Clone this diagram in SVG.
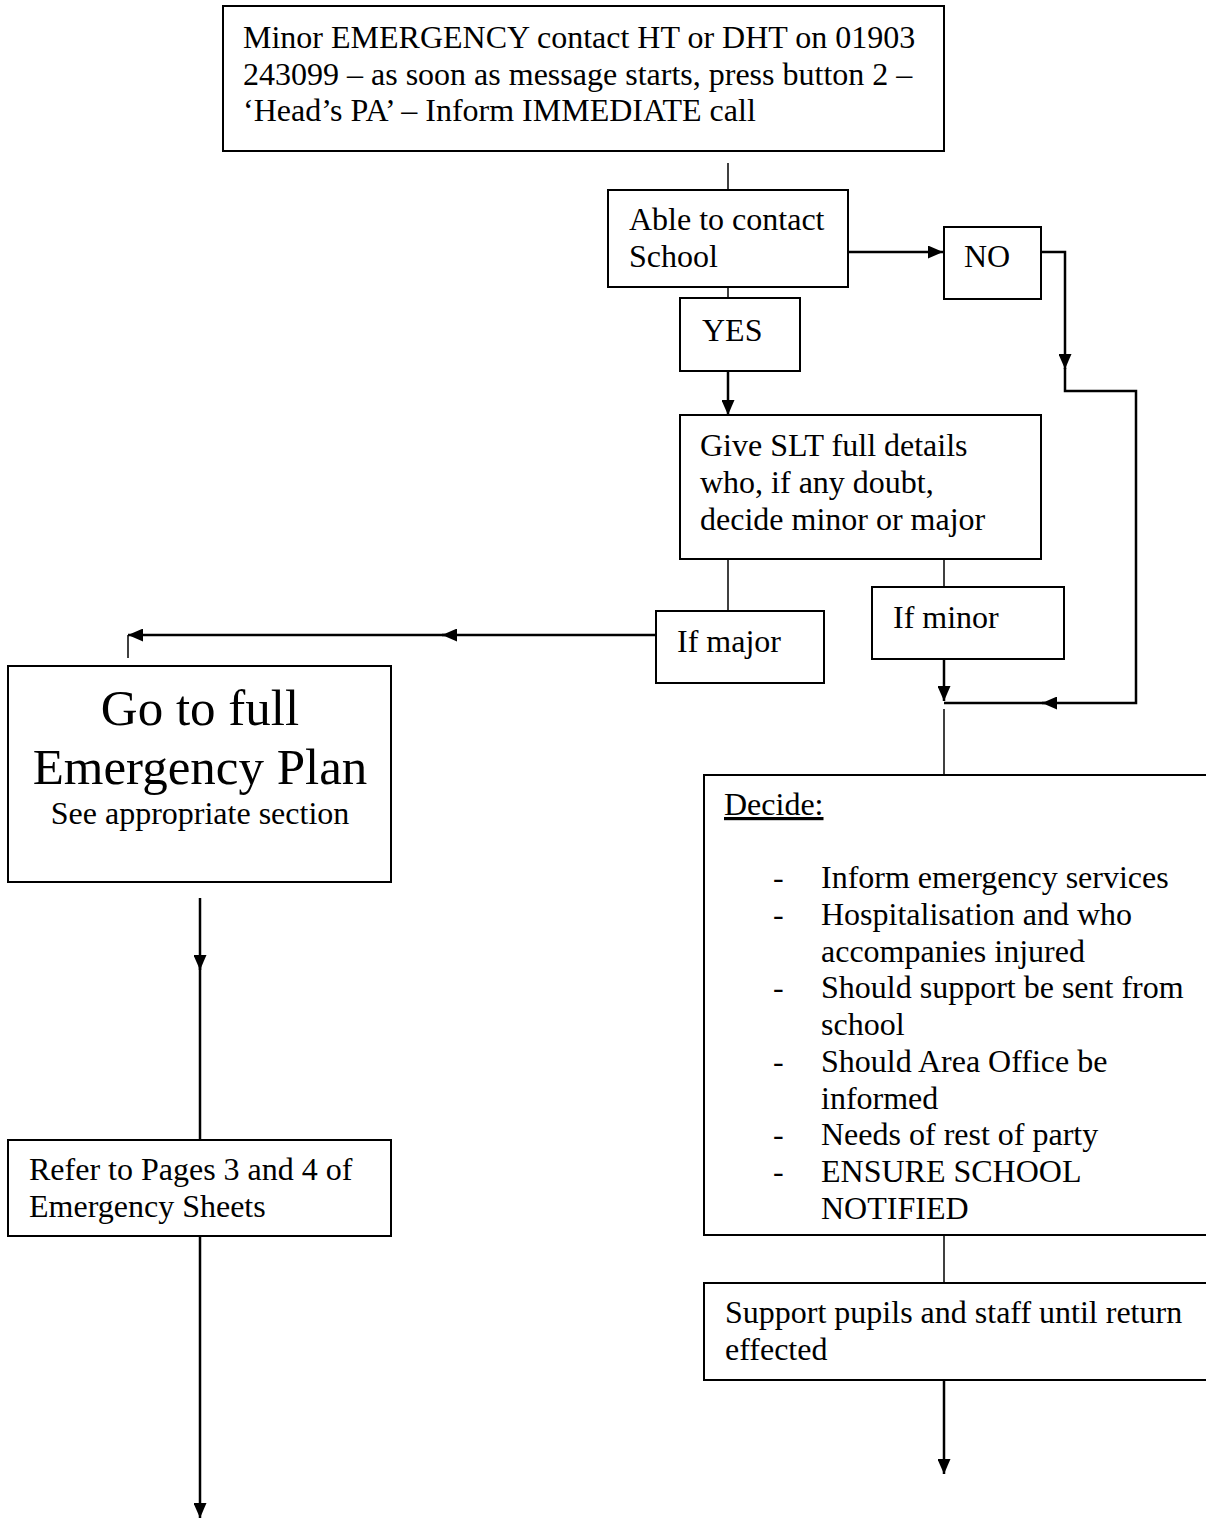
<svg xmlns="http://www.w3.org/2000/svg" width="1206" height="1519" viewBox="0 0 1206 1519">
<style>
.box{fill:#fff;stroke:#000;stroke-width:2}
.t{font-family:"Liberation Serif","Times New Roman",serif;font-size:32px;fill:#000}
.big{font-size:51px}
.ln{fill:none;stroke:#000;stroke-width:1.5}
.ar{fill:none;stroke:#000;stroke-width:2.5}
</style>
<defs>
<marker id="ah" viewBox="0 0 15 13" refX="15" refY="6.5" markerWidth="15" markerHeight="13" markerUnits="userSpaceOnUse" orient="auto">
<path d="M0,0 L15,6.5 L0,13 Z" fill="#000"/>
</marker>
</defs>
<rect width="1206" height="1519" fill="#fff"/>
<g id="connectors">
<line class="ln" x1="728" y1="163" x2="728" y2="190"/>
<line class="ar" x1="847" y1="252" x2="943" y2="252" marker-end="url(#ah)"/>
<line class="ln" x1="728" y1="287" x2="728" y2="298"/>
<line class="ar" x1="728" y1="371" x2="728" y2="415" marker-end="url(#ah)"/>
<polyline class="ar" points="1041,252 1065,252 1065,369" marker-end="url(#ah)"/>
<polyline class="ar" points="1065,368 1065,391 1136,391 1136,703 1042,703" marker-end="url(#ah)"/>
<line class="ar" x1="1045" y1="703" x2="944" y2="703"/>
<line class="ln" x1="728" y1="559" x2="728" y2="611"/>
<line class="ln" x1="944" y1="559" x2="944" y2="587"/>
<line class="ar" x1="656" y1="635" x2="442" y2="635" marker-end="url(#ah)"/>
<line class="ar" x1="445" y1="635" x2="128" y2="635" marker-end="url(#ah)"/>
<line class="ln" x1="128" y1="635" x2="128" y2="658"/>
<line class="ar" x1="944" y1="659" x2="944" y2="701" marker-end="url(#ah)"/>
<line class="ln" x1="944" y1="709" x2="944" y2="778"/>
<line class="ar" x1="200" y1="898" x2="200" y2="970" marker-end="url(#ah)"/>
<line class="ar" x1="200" y1="966" x2="200" y2="1140"/>
<line class="ar" x1="200" y1="1236" x2="200" y2="1518" marker-end="url(#ah)"/>
<line class="ln" x1="944" y1="1235" x2="944" y2="1283"/>
<line class="ar" x1="944" y1="1380" x2="944" y2="1474" marker-end="url(#ah)"/>
</g>
<g id="n-top">
<rect class="box" x="223" y="6" width="721" height="145"/>
<text class="t" x="243" y="48">Minor EMERGENCY contact HT or DHT on 01903</text>
<text class="t" x="243" y="85">243099 – as soon as message starts, press button 2 –</text>
<text class="t" x="243" y="121">‘Head’s PA’ – Inform IMMEDIATE call</text>
</g>
<g id="n-able">
<rect class="box" x="608" y="190" width="240" height="97"/>
<text class="t" x="629" y="230">Able to contact</text>
<text class="t" x="629" y="267">School</text>
</g>
<g id="n-no">
<rect class="box" x="944" y="227" width="97" height="72"/>
<text class="t" x="964" y="267">NO</text>
</g>
<g id="n-yes">
<rect class="box" x="680" y="298" width="120" height="73"/>
<text class="t" x="702" y="341">YES</text>
</g>
<g id="n-slt">
<rect class="box" x="680" y="415" width="361" height="144"/>
<text class="t" x="700" y="456">Give SLT full details</text>
<text class="t" x="700" y="493">who, if any doubt,</text>
<text class="t" x="700" y="530">decide minor or major</text>
</g>
<g id="n-major">
<rect class="box" x="656" y="611" width="168" height="72"/>
<text class="t" x="677" y="652">If major</text>
</g>
<g id="n-minor">
<rect class="box" x="872" y="587" width="192" height="72"/>
<text class="t" x="893" y="628">If minor</text>
</g>
<g id="n-plan">
<rect class="box" x="8" y="666" width="383" height="216"/>
<text class="t big" x="200" y="725" text-anchor="middle">Go to full</text>
<text class="t big" x="200" y="784" text-anchor="middle">Emergency Plan</text>
<text class="t" x="200" y="824" text-anchor="middle">See appropriate section</text>
</g>
<g id="n-refer">
<rect class="box" x="8" y="1140" width="383" height="96"/>
<text class="t" x="29" y="1180">Refer to Pages 3 and 4 of</text>
<text class="t" x="29" y="1217">Emergency Sheets</text>
</g>
<g id="n-decide">
<rect class="box" x="704" y="775" width="520" height="460"/>
<text class="t" x="724" y="815" text-decoration="underline">Decide:</text>
<text class="t" x="773" y="888">-</text><text class="t" x="821" y="888">Inform emergency services</text>
<text class="t" x="773" y="925">-</text><text class="t" x="821" y="925">Hospitalisation and who</text>
<text class="t" x="821" y="962">accompanies injured</text>
<text class="t" x="773" y="998">-</text><text class="t" x="821" y="998">Should support be sent from</text>
<text class="t" x="821" y="1035">school</text>
<text class="t" x="773" y="1072">-</text><text class="t" x="821" y="1072">Should Area Office be</text>
<text class="t" x="821" y="1109">informed</text>
<text class="t" x="773" y="1145">-</text><text class="t" x="821" y="1145">Needs of rest of party</text>
<text class="t" x="773" y="1182">-</text><text class="t" x="821" y="1182">ENSURE SCHOOL</text>
<text class="t" x="821" y="1219">NOTIFIED</text>
</g>
<g id="n-support">
<rect class="box" x="704" y="1283" width="520" height="97"/>
<text class="t" x="725" y="1323">Support pupils and staff until return</text>
<text class="t" x="725" y="1360">effected</text>
</g>
</svg>
